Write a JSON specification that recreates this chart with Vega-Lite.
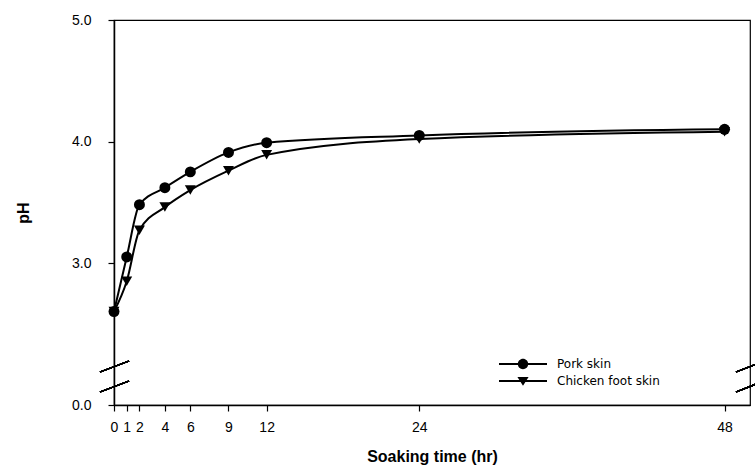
{
  "$schema": "https://vega.github.io/schema/vega-lite/v6.json",
  "width": 636,
  "height": 385,
  "autosize": "none",
  "padding": {"left": 114, "top": 20, "right": 5, "bottom": 67},
  "background": "white",
  "config": {
    "view": {"stroke": "black", "strokeWidth": 1.2},
    "font": "Liberation Sans",
    "axis": {
      "grid": false,
      "domainColor": "black",
      "domainWidth": 1.5,
      "tickColor": "black",
      "tickSize": 6,
      "tickWidth": 1.2,
      "labelColor": "black",
      "titleColor": "black",
      "labelFont": "Liberation Sans",
      "titleFont": "Liberation Sans"
    }
  },
  "data": {
    "values": [
      {"time": 0, "pH": 2.60, "sample": "Pork skin"},
      {"time": 1, "pH": 3.05, "sample": "Pork skin"},
      {"time": 2, "pH": 3.48, "sample": "Pork skin"},
      {"time": 4, "pH": 3.62, "sample": "Pork skin"},
      {"time": 6, "pH": 3.75, "sample": "Pork skin"},
      {"time": 9, "pH": 3.91, "sample": "Pork skin"},
      {"time": 12, "pH": 3.99, "sample": "Pork skin"},
      {"time": 24, "pH": 4.05, "sample": "Pork skin"},
      {"time": 48, "pH": 4.10, "sample": "Pork skin"},
      {"time": 0, "pH": 2.60, "sample": "Chicken foot skin"},
      {"time": 1, "pH": 2.85, "sample": "Chicken foot skin"},
      {"time": 2, "pH": 3.27, "sample": "Chicken foot skin"},
      {"time": 4, "pH": 3.46, "sample": "Chicken foot skin"},
      {"time": 6, "pH": 3.60, "sample": "Chicken foot skin"},
      {"time": 9, "pH": 3.76, "sample": "Chicken foot skin"},
      {"time": 12, "pH": 3.89, "sample": "Chicken foot skin"},
      {"time": 24, "pH": 4.02, "sample": "Chicken foot skin"},
      {"time": 48, "pH": 4.08, "sample": "Chicken foot skin"}
    ]
  },
  "encoding": {
    "x": {
      "field": "time",
      "type": "quantitative",
      "scale": {"domain": [0, 50], "nice": false, "zero": false},
      "axis": {
        "values": [0, 1, 2, 4, 6, 9, 12, 24, 48],
        "title": "Soaking time (hr)",
        "labelFontSize": 14,
        "labelPadding": 9,
        "titleFontSize": 16,
        "titleFontWeight": "bold",
        "titlePadding": 14,
        "labelFlush": false
      }
    },
    "y": {
      "field": "pH",
      "type": "quantitative",
      "scale": {"domain": [0, 2, 5], "range": [385, 364.5, 0], "nice": false, "zero": false},
      "axis": {
        "values": [0, 3, 4, 5],
        "format": ".1f",
        "title": "pH",
        "labelFontSize": 14,
        "labelPadding": 17,
        "titleFontSize": 16,
        "titleFontWeight": "bold",
        "titlePadding": 40
      }
    }
  },
  "resolve": {"scale": {"shape": "independent"}, "legend": {"shape": "independent"}},
  "layer": [
    {
      "mark": {"type": "line", "color": "black", "strokeWidth": 2, "interpolate": "monotone"},
      "encoding": {"detail": {"field": "sample"}}
    },
    {
      "mark": {"type": "point", "filled": true, "color": "black", "opacity": 1, "size": 120},
      "encoding": {
        "shape": {
          "field": "sample",
          "type": "nominal",
          "scale": {"domain": ["Pork skin", "Chicken foot skin"], "range": ["circle", "triangle-down"]},
          "legend": null
        }
      }
    },
    {
      "mark": {"type": "point", "filled": true, "color": "black", "opacity": 0, "size": 256},
      "encoding": {
        "shape": {
          "field": "sample",
          "type": "nominal",
          "scale": {
            "domain": ["Pork skin", "Chicken foot skin"],
            "range": [
              "M-3,-0.12H3V0.12H-3Z M0.65,0A0.65,0.65 0 1,1 -0.65,0A0.65,0.65 0 1,1 0.65,0Z",
              "M-3,-0.12H3V0.12H-3Z M-0.7,-0.5L0.7,-0.5L0,0.6Z"
            ]
          },
          "legend": {
            "title": null,
            "orient": "none",
            "legendX": 401,
            "legendY": 336,
            "padding": 0,
            "symbolSize": 256,
            "symbolOpacity": 1,
            "symbolFillColor": "black",
            "symbolStrokeColor": "black",
            "symbolStrokeWidth": 0,
            "labelFont": "DejaVu Sans",
            "labelFontSize": 12,
            "labelColor": "black",
            "labelOffset": 26,
            "rowPadding": 3
          }
        }
      }
    },
    {
      "mark": {"type": "rule", "color": "black", "strokeWidth": 1.2},
      "encoding": {"x": {"datum": -1.1}, "x2": {"datum": 1.18}, "y": {"datum": 2.103}, "y2": {"datum": 2.193}}
    },
    {
      "mark": {"type": "rule", "color": "black", "strokeWidth": 1.2},
      "encoding": {"x": {"datum": -1.1}, "x2": {"datum": 1.18}, "y": {"datum": 1.268}, "y2": {"datum": 2.029}}
    },
    {
      "mark": {"type": "rule", "color": "black", "strokeWidth": 1.2},
      "encoding": {"x": {"datum": 48.9}, "x2": {"datum": 51.1}, "y": {"datum": 2.103}, "y2": {"datum": 2.193}}
    },
    {
      "mark": {"type": "rule", "color": "black", "strokeWidth": 1.2},
      "encoding": {"x": {"datum": 48.9}, "x2": {"datum": 51.1}, "y": {"datum": 1.268}, "y2": {"datum": 2.029}}
    }
  ]
}
